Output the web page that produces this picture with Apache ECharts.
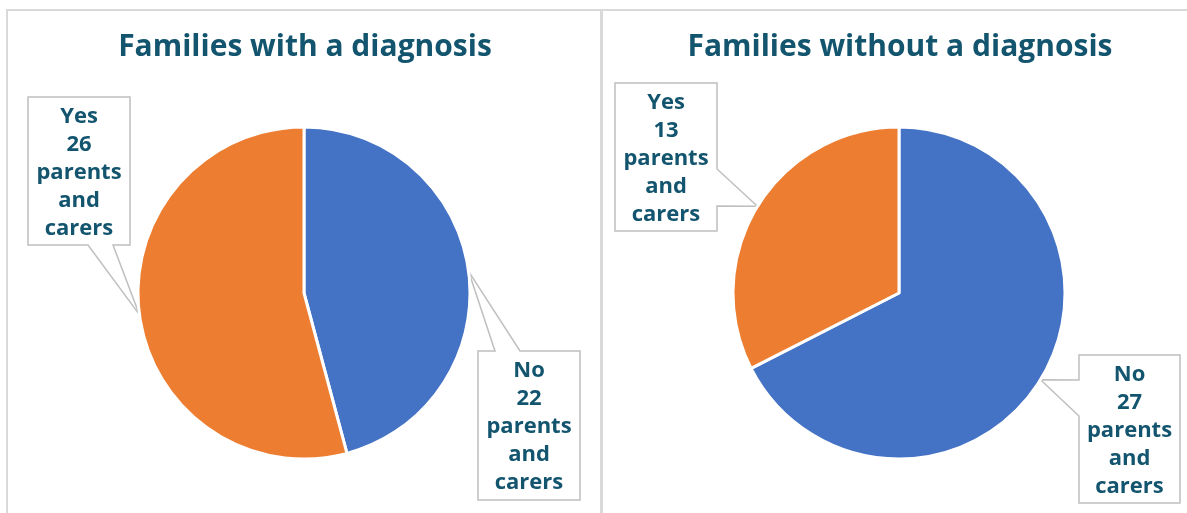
<!DOCTYPE html>
<html>
<head>
<meta charset="utf-8">
<script src="https://cdn.jsdelivr.net/npm/echarts@6/dist/echarts.min.js"></script>
<style>
  html, body { margin: 0; padding: 0; background: #ffffff; }
  #chart { width: 1187px; height: 513px; }
</style>
</head>
<body>
<div id="chart"></div>
<script>
// Survey answers, split by whether the family has a diagnosis
const categories = ['No', 'Yes'];
const withDiagnosis = [22, 26];
const withoutDiagnosis = [27, 13];
const panelTitles = ['Families with a diagnosis', 'Families without a diagnosis'];
const unitLines = ['parents', 'and', 'carers'];
const sliceColors = ['#4472C4', '#ED7D31'];

const TEXT_COLOR = '#13546E';
const FONT = '"Open Sans", "Noto Sans", sans-serif';
const CALLOUT_BORDER = '#BFBFBF';

// Callout boxes: [left, top, width, height], the side the pointer leaves from,
// and where the pointer's base sits along that side (offsets from left/top).
const callouts = [
  [
    { box: [478, 351, 102, 149], side: 'top', base: [17, 42] },
    { box: [28, 97, 102, 148], side: 'bottom', base: [60, 85] }
  ],
  [
    { box: [1079, 355, 101, 148], side: 'left', base: [25, 61] },
    { box: [615, 83, 102, 148], side: 'right', base: [86, 123] }
  ]
];

// Closed outline of a speech-bubble callout whose tip touches the slice.
function calloutOutline(c, tip) {
  const [L, T, W, H] = c.box;
  const R = L + W, B = T + H;
  const TL = [L, T], TR = [R, T], BR = [R, B], BL = [L, B];
  const [b0, b1] = c.base;
  switch (c.side) {
    case 'top':
      return [tip, [L + b1, T], TR, BR, BL, TL, [L + b0, T], tip];
    case 'bottom':
      return [tip, [L + b0, B], BL, TL, TR, BR, [L + b1, B], tip];
    case 'right':
      return [tip, [R, T + b1], BR, BL, TL, TR, [R, T + b0], tip];
    default:
      return [tip, [L, T + b0], TL, TR, BR, BL, [L, T + b1], tip];
  }
}

function pieSeries(values, centerX) {
  return {
    type: 'pie',
    center: [centerX, 293],
    radius: 166,
    startAngle: 90,
    clockwise: true,
    avoidLabelOverlap: false,
    silent: true,
    itemStyle: { borderColor: '#ffffff', borderWidth: 3 },
    data: categories.map((name, i) => ({
      name: name,
      value: values[i],
      itemStyle: { color: sliceColors[i] }
    })),
    label: {
      show: true,
      position: 'outside',
      formatter: p => [p.name, p.value].concat(unitLines).join('\n'),
      color: TEXT_COLOR,
      fontFamily: FONT,
      fontWeight: 'bold',
      fontSize: 22,
      lineHeight: 28,
      align: 'center'
    },
    labelLine: {
      show: true,
      smooth: false,
      length: 20,
      length2: 20,
      lineStyle: { color: CALLOUT_BORDER, width: 1.5 }
    },
    labelLayout: function (params) {
      const c = callouts[params.seriesIndex][params.dataIndex];
      const tip = params.labelLinePoints[0];
      return {
        x: c.box[0] + c.box[2] / 2,
        y: c.box[1] + 6,
        align: 'center',
        verticalAlign: 'top',
        labelLinePoints: calloutOutline(c, tip)
      };
    }
  };
}

const chart = echarts.init(document.getElementById('chart'), null, { renderer: 'canvas' });

chart.setOption({
  animation: false,
  backgroundColor: '#ffffff',
  graphic: [
    {
      type: 'rect', z: -10,
      shape: { x: 7, y: 10, width: 594, height: 620 },
      style: { fill: '#ffffff', stroke: '#D9D9D9', lineWidth: 2 }
    },
    {
      type: 'rect', z: -10,
      shape: { x: 602, y: 10, width: 596, height: 620 },
      style: { fill: '#ffffff', stroke: '#D9D9D9', lineWidth: 2 }
    }
  ],
  title: [
    {
      text: panelTitles[0], left: 300, top: 27, textAlign: 'center',
      textStyle: { color: TEXT_COLOR, fontFamily: FONT, fontWeight: 'bold', fontSize: 30 }
    },
    {
      text: panelTitles[1], left: 895, top: 27, textAlign: 'center',
      textStyle: { color: TEXT_COLOR, fontFamily: FONT, fontWeight: 'bold', fontSize: 30 }
    }
  ],
  series: [
    pieSeries(withDiagnosis, 304),
    pieSeries(withoutDiagnosis, 899)
  ]
});
</script>
</body>
</html>
